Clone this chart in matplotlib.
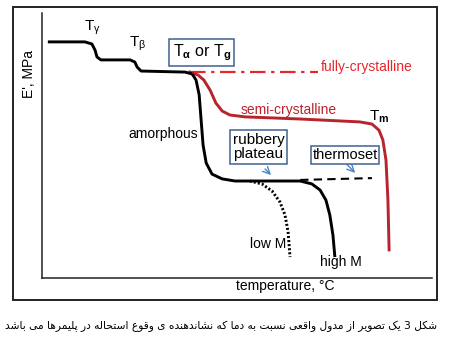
import numpy as np
import matplotlib
matplotlib.use('Agg')
import matplotlib.pyplot as plt
from matplotlib.patches import Rectangle, FancyArrowPatch

plt.rcParams['font.family'] = ['Liberation Sans', 'DejaVu Sans']
plt.rcParams['mathtext.fontset'] = 'custom'
plt.rcParams['mathtext.rm'] = 'Liberation Sans'
plt.rcParams['mathtext.it'] = 'Liberation Sans:italic'
plt.rcParams['mathtext.bf'] = 'Liberation Sans:bold'

# temperature (arb. units) / modulus (arb. units)
glassy_T = [1.5, 11.0, 12.8, 13.6, 14.1, 15.1, 22.6, 23.8, 24.4, 25.4, 36.7, 38.5]
glassy_E = [89.1, 89.1, 88.3, 86.0, 83.4, 82.3, 82.3, 81.5, 79.6, 78.1, 77.7, 77.0]

amorph_T = [38.5, 39.5, 40.3, 40.8, 41.3, 42.1, 43.6, 46.2, 49.5, 66.2, 69.2, 71.3, 72.8, 73.8, 74.6, 75.1]
amorph_E = [77.0, 74.7, 69.1, 59.6, 50.2, 43.4, 39.2, 37.4, 36.6, 36.6, 35.5, 33.2, 29.4, 23.8, 16.2, 7.9]

lowM_T = [53.3, 56.4, 59.0, 61.0, 62.3, 63.1, 63.6]
lowM_E = [36.6, 35.5, 32.8, 28.7, 23.8, 17.4, 7.9]

thermoset_T = [66.2, 84.6]
thermoset_E = [37.0, 37.7]

semi_T = [37.9, 40.0, 41.5, 43.1, 44.6, 46.2, 48.2, 52.1, 66.2, 81.5, 84.6, 86.4, 87.4, 88.2, 88.7, 89.0]
semi_E = [77.7, 76.6, 74.7, 70.9, 66.0, 63.0, 61.5, 60.8, 60.0, 58.9, 58.1, 55.8, 52.1, 44.5, 29.4, 10.6]

fully_T = [37.9, 70.8]
fully_E = [77.7, 77.7]

caption = 'شکل 3 یک تصویر از مدول واقعی نسبت به دما که نشاندهنده ی وقوع استحاله در پلیمرها می باشد'

# (isolated, final, initial, medial) presentation forms
FORMS = {
    'ا': ('\uFE8D', '\uFE8E', None, None),
    'ب': ('\uFE8F', '\uFE90', '\uFE91', '\uFE92'),
    'پ': ('\uFB56', '\uFB57', '\uFB58', '\uFB59'),
    'ت': ('\uFE95', '\uFE96', '\uFE97', '\uFE98'),
    'ح': ('\uFEA1', '\uFEA2', '\uFEA3', '\uFEA4'),
    'د': ('\uFEA9', '\uFEAA', None, None),
    'ر': ('\uFEAD', '\uFEAE', None, None),
    'ز': ('\uFEAF', '\uFEB0', None, None),
    'س': ('\uFEB1', '\uFEB2', '\uFEB3', '\uFEB4'),
    'ش': ('\uFEB5', '\uFEB6', '\uFEB7', '\uFEB8'),
    'ص': ('\uFEB9', '\uFEBA', '\uFEBB', '\uFEBC'),
    'ع': ('\uFEC9', '\uFECA', '\uFECB', '\uFECC'),
    'ق': ('\uFED5', '\uFED6', '\uFED7', '\uFED8'),
    'ل': ('\uFEDD', '\uFEDE', '\uFEDF', '\uFEE0'),
    'م': ('\uFEE1', '\uFEE2', '\uFEE3', '\uFEE4'),
    'ن': ('\uFEE5', '\uFEE6', '\uFEE7', '\uFEE8'),
    'ه': ('\uFEE9', '\uFEEA', '\uFEEB', '\uFEEC'),
    'و': ('\uFEED', '\uFEEE', None, None),
    'ک': ('\uFB8E', '\uFB8F', '\uFB90', '\uFB91'),
    'ی': ('\uFBFC', '\uFBFD', '\uFBFE', '\uFBFF'),
}


def shape_rtl(text):
    # crude arabic-script shaping + visual reordering, matplotlib does neither
    out = []
    for i, ch in enumerate(text):
        if ch not in FORMS:
            out.append(ch)
            continue
        prev = text[i - 1] if i > 0 else ''
        nxt = text[i + 1] if i + 1 < len(text) else ''
        join_prev = prev in FORMS and FORMS[prev][2] is not None
        join_next = nxt in FORMS and FORMS[ch][2] is not None
        iso, fin, ini, med = FORMS[ch]
        if join_prev and join_next:
            out.append(med)
        elif join_prev:
            out.append(fin)
        elif join_next:
            out.append(ini)
        else:
            out.append(iso)
    return ''.join(reversed(out))


fig = plt.figure(figsize=(4.5, 3.46), dpi=100)
fig.patches.append(Rectangle((13 / 450, 1 - 300 / 346), 424 / 450, 293 / 346,
                             transform=fig.transFigure, fill=False, edgecolor='#222222', linewidth=1.4))

ax = fig.add_axes([42 / 450, 1 - 278 / 346, 390 / 450, 265 / 346])
ax.set_xlim(0, 100)
ax.set_ylim(0, 100)
for side in ['top', 'right']:
    ax.spines[side].set_visible(False)
for side in ['left', 'bottom']:
    ax.spines[side].set_linewidth(1.1)
    ax.spines[side].set_color('#222222')
ax.set_xticks([])
ax.set_yticks([])

black = dict(color='black', linewidth=2.1, solid_capstyle='butt', solid_joinstyle='round')
ax.plot(fully_T, fully_E, color='#e8262b', linewidth=1.6, linestyle=(0, (7, 2.5, 1.5, 2.5)))
ax.plot(semi_T, semi_E, color='#b8242b', linewidth=2.1, solid_joinstyle='round')
ax.plot(glassy_T, glassy_E, **black)
ax.plot(amorph_T, amorph_E, **black)
ax.plot(lowM_T, lowM_E, color='black', linewidth=2.1, linestyle=(0, (0.7, 0.7)))
ax.plot(thermoset_T, thermoset_E, color='black', linewidth=1.5, linestyle=(0, (4, 2.5)))

fs = 10
ax.text(10.8, 93.5, r'T$_\mathrm{γ}$', fontsize=11)
ax.text(22.3, 87.5, r'T$_\mathrm{β}$', fontsize=11)
box = dict(boxstyle='square,pad=0.2', facecolor='white', edgecolor='#41618f', linewidth=1.1)
ax.text(33.5, 85.0, r'T$_\mathbf{α}$ or T$_\mathbf{g}$', fontsize=11.5, bbox=box, va='center')
ax.text(71.5, 79.5, 'fully-crystalline', fontsize=fs, color='#e8262b', va='center')
ax.text(51.0, 63.5, 'semi-crystalline', fontsize=fs, color='#b8242b', va='center')
ax.text(83.8, 61.0, r'T$_\mathbf{m}$', fontsize=11, va='center')
ax.text(40.0, 54.5, 'amorphous', fontsize=fs, ha='right', va='center')
ax.text(55.5, 49.4, 'rubbery\nplateau', fontsize=11, ha='center', va='center', bbox=box, linespacing=1.05)
ax.text(77.7, 46.4, 'thermoset', fontsize=10.5, ha='center', va='center',
        bbox=dict(boxstyle='square,pad=0.12', facecolor='white', edgecolor='#41618f', linewidth=1.1))
ax.text(62.5, 13.0, 'low M', fontsize=fs, ha='right', va='center')
ax.text(76.7, 6.0, 'high M', fontsize=fs, ha='center', va='center')

arrow = dict(arrowstyle='->,head_length=5,head_width=2.5', color='#4a86c8', linewidth=1.0)
ax.add_patch(FancyArrowPatch((56.7, 41.9), (59.2, 38.1), mutation_scale=1, **arrow))
ax.add_patch(FancyArrowPatch((77.7, 43.6), (80.8, 38.9), mutation_scale=1, **arrow))

fig.text(285 / 450, 1 - 286 / 346, 'temperature, \u00b0C', fontsize=fs, ha='center', va='center')
fig.text(29 / 450, 1 - 74 / 346, "E', MPa", fontsize=fs, rotation=90, ha='center', va='center')

fig.text(437 / 450, 1 - 326 / 346, shape_rtl(caption), fontsize=7.65, ha='right', va='center',
         family=['DejaVu Sans'])

fig.savefig('out.png', dpi=100)
